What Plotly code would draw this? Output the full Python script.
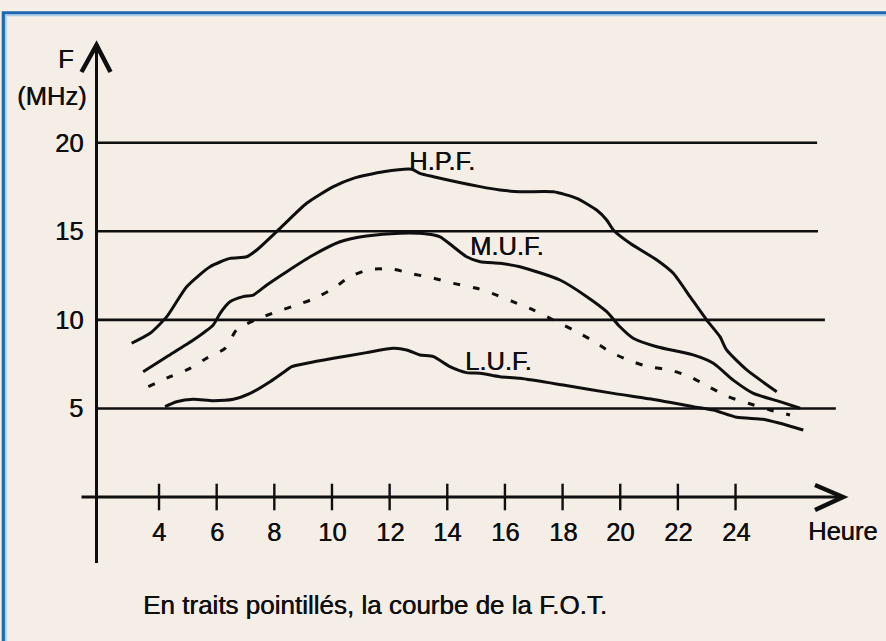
import plotly.graph_objects as go

# ---- data -----------------------------------------------------------------
tick_hours = [4, 6, 8, 10, 12, 14, 16, 18, 20, 22, 24]
freq_levels = [5, 10, 15, 20]
freq_labels = ["5", "10", "15", "20"]

# highest possible frequency (H.P.F.)
hpf_hour = [3.05, 3.69, 4.27, 4.96, 5.77, 6.46, 7.04, 7.39, 8.26, 9.12, 10.05, 10.74,
            11.78, 12.77, 13.05, 13.52, 15.14, 15.83, 16.52, 17.68, 18.49, 19.18,
            19.53, 19.76, 20.34, 21.27, 21.84, 22.42, 23.00, 23.46, 23.69, 24.39, 25.43]
hpf_mhz = [8.68, 9.24, 10.18, 11.87, 13.00, 13.47, 13.56, 13.94, 15.26, 16.58, 17.52, 17.99,
           18.36, 18.50, 18.27, 18.08, 17.52, 17.33, 17.23, 17.23, 16.86, 16.20,
           15.64, 15.07, 14.32, 13.38, 12.63, 11.31, 9.99, 9.05, 8.30, 7.17, 5.94]

# maximum usable frequency (M.U.F.)
muf_hour = [3.45, 4.27, 5.19, 5.88, 6.12, 6.46, 6.92, 7.27, 7.74, 8.43, 9.35, 10.28, 11.20,
            12.36, 13.29, 13.75, 14.21, 14.67, 15.14, 15.83, 16.52, 17.91, 18.84, 19.53,
            19.99, 20.45, 21.27, 22.53, 23.23, 23.92, 24.62, 25.54, 26.24]
muf_mhz = [7.07, 7.92, 8.86, 9.71, 10.37, 11.02, 11.31, 11.40, 11.97, 12.72, 13.66, 14.41, 14.73,
           14.89, 14.85, 14.69, 14.13, 13.56, 13.28, 13.19, 13.00, 12.25, 11.31, 10.46,
           9.61, 8.96, 8.48, 8.02, 7.55, 6.60, 5.85, 5.38, 5.01]

# optimum working frequency (F.O.T.)
fot_hour = [3.63, 4.38, 5.07, 5.65, 6.29, 6.69, 7.33, 8.08, 8.78, 9.41, 10.05, 10.63, 11.32,
            12.13, 12.82, 13.52, 14.21, 15.02, 15.71, 16.29, 16.98, 17.68, 18.37, 19.01,
            19.64, 20.28, 20.97, 21.73, 22.42, 23.06, 23.75, 24.44, 25.20, 25.89]
fot_mhz = [6.23, 6.79, 7.26, 7.83, 8.39, 9.43, 9.99, 10.46, 10.84, 11.22, 11.78, 12.44, 12.85,
           12.85, 12.59, 12.35, 12.06, 11.78, 11.40, 11.02, 10.56, 9.99, 9.43, 8.86,
           8.20, 7.73, 7.36, 7.17, 6.79, 6.23, 5.66, 5.29, 4.91, 4.63]

# lowest usable frequency (L.U.F.)
luf_hour = [4.21, 4.61, 5.19, 5.88, 6.58, 7.16, 7.85, 8.43, 8.60, 9.12, 10.05, 11.20, 12.13,
            12.59, 13.05, 13.52, 14.09, 14.67, 15.14, 15.83, 16.52, 18.02, 19.76, 21.27,
            22.53, 23.23, 24.04, 24.96, 25.54, 26.35]
luf_mhz = [5.10, 5.38, 5.52, 5.44, 5.52, 5.85, 6.51, 7.17, 7.36, 7.55, 7.83, 8.15, 8.39,
           8.30, 8.02, 7.92, 7.36, 7.02, 6.98, 6.79, 6.70, 6.32, 5.85, 5.48,
           5.10, 4.91, 4.50, 4.39, 4.16, 3.78]

# ---- geometry / style -----------------------------------------------------
W, H = 886, 641
PX_PER_HOUR = 28.826          # horizontal scale
PX_PER_MHZ = 17.715           # vertical scale
HOUR14_PX = 447.28            # pixel column of 14 h
ZERO_PY = 497.0               # pixel row of 0 MHz
AXIS_HOUR = 14 + (96.5 - HOUR14_PX) / PX_PER_HOUR   # hour where the F axis stands

x_range = [14 - HOUR14_PX / PX_PER_HOUR, 14 + (W - HOUR14_PX) / PX_PER_HOUR]
y_range = [(ZERO_PY - H) / PX_PER_MHZ, ZERO_PY / PX_PER_MHZ]


def dh(px):
    """pixel length -> hours"""
    return px / PX_PER_HOUR


def df(px):
    """pixel length -> MHz"""
    return px / PX_PER_MHZ


def pxx(x):
    return x / W


def pxy(y):
    return 1 - y / H


BG = "#f5eee7"
INK = "#0f0f0f"
FONT = "Liberation Sans, Arial, Helvetica, sans-serif"
TEXT_FONT = dict(family=FONT, size=25.5, color=INK, shadow="0.5px 0 0 #0f0f0f")
CAPTION_FONT = dict(family=FONT, size=26, color=INK, shadow="0.5px 0 0 #0f0f0f")

level_end_hour = {5: 27.48, 10: 27.10, 15: 26.86, 20: 26.83}

fig = go.Figure()

curves = [
    (hpf_hour, hpf_mhz, "solid"),
    (muf_hour, muf_mhz, "solid"),
    (fot_hour, fot_mhz, "7px,13px"),
    (luf_hour, luf_mhz, "solid"),
]
for hx, fy, dash in curves:
    fig.add_trace(go.Scatter(
        x=hx, y=fy, mode="lines",
        line=dict(color=INK, width=3, dash=dash, shape="spline", smoothing=0.6),
        hoverinfo="skip", showlegend=False,
    ))

# tick marks crossing the time axis
fig.add_trace(go.Scatter(
    x=tick_hours, y=[0] * len(tick_hours), mode="markers",
    marker=dict(symbol="line-ns", size=19, line=dict(color=INK, width=2.4)),
    hoverinfo="skip", showlegend=False,
))

shapes = []
# frequency reference lines
for lvl in freq_levels:
    shapes.append(dict(type="line", xref="x", yref="y", x0=AXIS_HOUR, x1=level_end_hour[lvl],
                       y0=lvl, y1=lvl, line=dict(color=INK, width=2.6)))

# frequency axis with open arrow head
f_bottom = (ZERO_PY - 563) / PX_PER_MHZ
f_tip = (ZERO_PY - 45) / PX_PER_MHZ
shapes.append(dict(type="line", xref="x", yref="y", x0=AXIS_HOUR, x1=AXIS_HOUR,
                   y0=f_bottom, y1=f_tip, line=dict(color=INK, width=3)))
shapes.append(dict(type="path", xref="x", yref="y",
                   path=f"M {AXIS_HOUR - dh(15)} {f_tip - df(27)} L {AXIS_HOUR} {f_tip} "
                        f"L {AXIS_HOUR + dh(14)} {f_tip - df(27)}",
                   line=dict(color=INK, width=4.5)))

# time axis with open arrow head
h_start = AXIS_HOUR - dh(15)
h_tip = 14 + (843 - HOUR14_PX) / PX_PER_HOUR
shapes.append(dict(type="line", xref="x", yref="y", x0=h_start, x1=h_tip,
                   y0=0, y1=0, line=dict(color=INK, width=3)))
shapes.append(dict(type="path", xref="x", yref="y",
                   path=f"M {h_tip - dh(28)} {df(12)} L {h_tip} 0 L {h_tip - dh(28)} {-df(13)}",
                   line=dict(color=INK, width=4.5)))

# frame
shapes.append(dict(type="path", xref="paper", yref="paper",
                   path=f"M {pxx(3.3)} 0 L {pxx(3.3)} {pxy(12.8)} L 1 {pxy(12.8)}",
                   line=dict(color="#1d68b0", width=3.2)))
shapes.append(dict(type="path", xref="paper", yref="paper",
                   path=f"M {pxx(5.9)} 0 L {pxx(5.9)} {pxy(15.4)} L 1 {pxy(15.4)}",
                   line=dict(color="#a9cfea", width=1.8)))

annotations = []
for h in tick_hours:
    annotations.append(dict(x=h, y=0, xref="x", yref="y", text=str(h), showarrow=False,
                            xanchor="center", yanchor="middle", yshift=-35, font=TEXT_FONT))
for lvl, lab in zip(freq_levels, freq_labels):
    annotations.append(dict(x=AXIS_HOUR, y=lvl, xref="x", yref="y", text=lab, showarrow=False,
                            xanchor="right", yanchor="middle", xshift=-12, font=TEXT_FONT))

curve_labels = [("H.P.F.", 441.5, 161), ("M.U.F.", 506.5, 246), ("L.U.F.", 499, 361)]
free_text = curve_labels + [("F", 66, 59), ("(MHz)", 51, 96), ("Heure", 842, 531)]
for txt, cx, cy in free_text:
    annotations.append(dict(x=pxx(cx), y=pxy(cy), xref="paper", yref="paper", text=txt,
                            xanchor="center", yanchor="middle", showarrow=False,
                            font=TEXT_FONT))

annotations.append(dict(x=pxx(141), y=pxy(605), xref="paper", yref="paper",
                        xanchor="left", yanchor="middle",
                        text="En traits pointillés, la courbe de la F.O.T.", showarrow=False,
                        font=CAPTION_FONT))

fig.update_layout(
    width=W, height=H, autosize=False,
    margin=dict(l=0, r=0, t=0, b=0, pad=0),
    paper_bgcolor=BG, plot_bgcolor=BG,
    xaxis=dict(range=x_range, visible=False, fixedrange=True),
    yaxis=dict(range=y_range, visible=False, fixedrange=True),
    shapes=shapes, annotations=annotations,
    showlegend=False,
)

fig.write_html("out.html", config={"displayModeBar": False})
